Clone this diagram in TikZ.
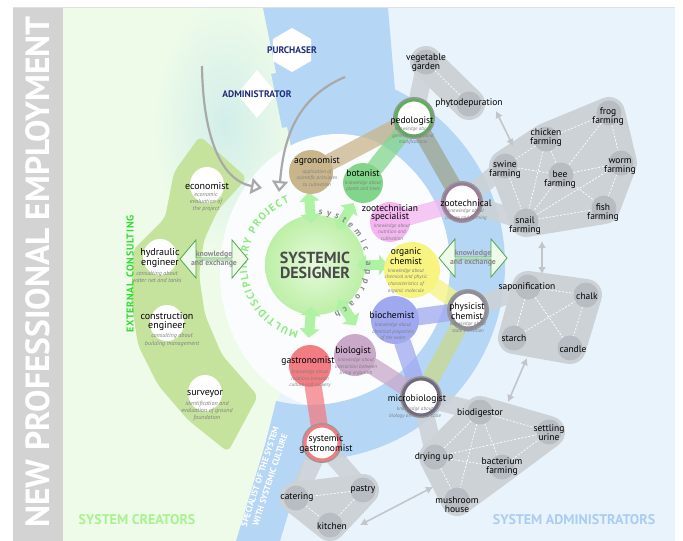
\documentclass[tikz,border=0pt]{standalone}
\usepackage{fontspec}
\setmainfont{PT Sans}
\usetikzlibrary{calc,shapes.geometric,shapes.arrows,decorations.text,arrows.meta}
\definecolor{bargray}{HTML}{D3D3D3}
\definecolor{creatorbg}{HTML}{EEFBE9}
\definecolor{adminbg}{HTML}{E9F3FB}
\definecolor{tealtint}{HTML}{D2EEE9}
\definecolor{ringblue}{HTML}{B6D6F5}
\definecolor{innerwhite}{HTML}{FAFCFE}
\definecolor{consultgreen}{HTML}{C6E39E}
\definecolor{designgreen}{HTML}{BDEFA6}
\definecolor{designlight}{HTML}{E6FADC}
\definecolor{arrowgreen}{HTML}{B0F2A4}
\definecolor{multigreen}{HTML}{8CEB7A}
\definecolor{brightgreen}{HTML}{2EDD2E}
\definecolor{creatortext}{HTML}{A8F28F}
\definecolor{admintext}{HTML}{A9CDF5}
\definecolor{navy}{HTML}{1F2C7C}
\definecolor{designertext}{HTML}{4A4A4A}
\definecolor{approachgray}{HTML}{8C8C8C}
\definecolor{agrocol}{HTML}{C9B58C}
\definecolor{botcol}{HTML}{82D68C}
\definecolor{pedocol}{HTML}{5EAE5E}
\definecolor{zoospeccol}{HTML}{F4B6F0}
\definecolor{zoocol}{HTML}{9C7B98}
\definecolor{orgcol}{HTML}{F7F580}
\definecolor{biochemcol}{HTML}{A0A8F0}
\definecolor{biolcol}{HTML}{CAA8CA}
\definecolor{gastrocol}{HTML}{F27C82}
\definecolor{physcol}{HTML}{8E8E98}
\definecolor{microcol}{HTML}{6F6A82}
\definecolor{olivecol}{HTML}{9DA58F}
\definecolor{limecol}{HTML}{C9D98E}
\definecolor{hullgray}{HTML}{CDD2D7}
\definecolor{dotgray}{HTML}{B8BDC3}
\definecolor{swapgray}{HTML}{C2C6CB}
\definecolor{notegray}{HTML}{808080}
\definecolor{knowgreen}{HTML}{4FA64F}
\definecolor{knowfill}{HTML}{EEFBE8}
\definecolor{knowtextgray}{HTML}{8A8A8A}
\definecolor{curvegray}{HTML}{A9A9A9}
\pgfdeclarelayer{back}
\pgfsetlayers{back,main}
\tikzset{farmdot/.style={circle,fill=dotgray,minimum size=25pt,inner sep=0pt},
farmlabel/.style={font=\fontsize{9.5}{9}\selectfont,align=center,inner sep=0pt},
speclabel/.style={font=\fontsize{9.5}{8.5}\selectfont,align=center,inner sep=0pt},
specnote/.style={font=\itshape\fontsize{5.2}{6.6}\selectfont,text=notegray,align=center,inner sep=0pt},
consultlabel/.style={font=\fontsize{10}{9}\selectfont,align=center,inner sep=0pt},
consultnote/.style={font=\itshape\fontsize{6.1}{7.3}\selectfont,text=notegray,align=center,inner sep=0pt},
consultant/.style={ellipse,fill=white,minimum width=34pt,minimum height=36pt,inner sep=0pt},
blob/.style={circle,fill=#1,minimum size=42pt,inner sep=0pt},
ringnode/.style={circle,fill=white,draw=#1,line width=3pt,minimum size=36pt,inner sep=0pt,preaction={draw=black!40,line width=6pt}},
band/.style={line width=17pt,line cap=round,opacity=.75},
hull/.style={fill=hullgray,draw=hullgray,line width=32pt,line join=round,line cap=round},
greyband/.style={draw=hullgray,line width=18pt,line cap=round,opacity=.9},
link/.style={draw=white,line width=.7pt,dash pattern=on 2pt off 1.6pt},
exchange/.style={draw=swapgray,line width=1.6pt,{Latex[length=7pt,width=8pt]}-{Latex[length=7pt,width=8pt]}},
designarrow/.style={draw=arrowgreen,line width=10pt,{Triangle[width=20pt,length=9pt]}-{Triangle[width=20pt,length=9pt]}},
bigcurve/.style={draw=curvegray,line width=2.2pt,-{Triangle[open,length=11pt,width=16pt]}},
knowarrow/.style={double arrow,draw=knowgreen,fill=knowfill,line width=.8pt,minimum height=68pt,minimum width=38pt,double arrow head extend=7pt,double arrow tip angle=100,inner sep=0pt},
knowtext/.style={font=\bfseries\fontsize{7.8}{8.6}\selectfont,text=knowtextgray,align=center,inner sep=0pt},
role/.style={font=\bfseries\fontsize{9.5}{9.5}\selectfont,text=navy,inner sep=0pt}}

\begin{document}
\begin{tikzpicture}[x=1pt,y=-1pt]
\useasboundingbox (0,0) rectangle (683,541);
\coordinate (C) at (315,265);
\coordinate (R) at (310,265);
% background regions
\begin{pgfonlayer}{back}
\fill[white] (0,0) rectangle (683,541);
\begin{scope}
\clip (63,8) rectangle (675,541);
\fill[adminbg] (63,8) rectangle (675,541);
\fill[creatorbg] (63,8) -- (263,8) -- (C) -- (240,541) -- (63,541) -- cycle;
\shade[inner color=tealtint,outer color=creatorbg] (225,125) ellipse[x radius=72,y radius=125];
\fill[ringblue] (C) -- (263,8) -- (388,8) -- (398,125) -- cycle;
\fill[innerwhite] (338,272) ellipse[x radius=118,y radius=138];
\fill[ringblue] ($(R)+(-101.5:140)$) arc[start angle=-101.5,end angle=104,radius=140]
  -- ($(R)+(104:195)$) arc[start angle=104,end angle=-101.5,radius=195] -- cycle;
\fill[ringblue] (277,405) -- (236,541) -- (280,541) -- (318,415) -- cycle;
\fill[consultgreen,rounded corners=6pt] (200,136) -- (247,178) -- (218,210) -- (204,240) -- (199,275)
  -- (205,315) -- (222,355) -- (258,396) -- (228,452) -- (188,420) -- (158,385) -- (138,345)
  -- (131,300) -- (133,250) -- (165,218) -- (174,172) -- cycle;
\end{scope}
\fill[bargray] (13,8) rectangle (63,541);
\draw[black!12] (13,7.5) -- (675,7.5);
\end{pgfonlayer}

% titles
\node[rotate=90,text=white,font=\bfseries\fontsize{33.5}{33.5}\selectfont] (employment) at (38,272) {NEW PROFESSIONAL EMPLOYMENT};
\node[text=creatortext,font=\bfseries\fontsize{14}{14}\selectfont] (creators) at (137,520) {SYSTEM CREATORS};
\node[text=admintext,font=\bfseries\fontsize{14}{14}\selectfont] (administrators) at (574,520) {SYSTEM ADMINISTRATORS};
\node[rotate=90,text=brightgreen,font=\bfseries\fontsize{10}{10}\selectfont\addfontfeature{LetterSpace=8}] (consulting) at (130,274) {EXTERNAL CONSULTING};
\node[rotate=72,text=white,align=center,font=\bfseries\fontsize{8.6}{10.5}\selectfont] (specialist) at (265,478) {SPECIALIST OF THE SYSTEM\\WITH SYSTEMIC CULTURE};

% systemic designer
\shade[inner color=designlight,outer color=designgreen] (C) circle[radius=50];
\foreach \a in {-95,-58,0,56,95}
  \draw[designarrow] ($(C)+(\a:42)$) -- ($(C)+(\a:73)$);
\path[decorate,decoration={text along path,text align={fit to path},
  text={|\bfseries\fontsize{9}{9}\selectfont\color{approachgray}|systemic approach}}]
  ($(C)+(-86:51)$) arc[start angle=-86,end angle=68,radius=51];
\path[decorate,decoration={text along path,text align={fit to path},
  text={|\bfseries\fontsize{10.5}{10.5}\selectfont\color{multigreen}|MULTIDISCIPLINARY PROJECT}}]
  ($(C)+(104:68)$) arc[start angle=104,end angle=248,radius=68];
\node[font=\bfseries\fontsize{16}{15}\selectfont,text=designertext,align=center] (designer) at (C) {SYSTEMIC\\DESIGNER};

% purchaser and administrator
\node[regular polygon,regular polygon sides=6,shape border rotate=30,fill=white,minimum size=44pt,inner sep=0pt] (purchaser-box) at (292,50) {};
\node[role] (purchaser) at (292,50) {PURCHASER};
\node[diamond,fill=white,minimum width=40pt,minimum height=48pt,inner sep=0pt] (administrator-box) at (257,94) {};
\node[role] (administrator) at (257,94) {ADMINISTRATOR};
\coordinate (left-from) at (202,66);
\coordinate (left-to) at (262,188);
\coordinate (right-from) at (345,77);
\coordinate (right-to) at (279,192);
\draw[bigcurve] (left-from) .. controls (203,135) and (220,180) .. (left-to);
\draw[bigcurve] (right-from) .. controls (290,100) and (283,150) .. (right-to);

% external consulting
\node[consultant] (economist) at (207,185) {};
\node[consultant] (hydraulic) at (160,257) {};
\node[consultant] (construction) at (167,323) {};
\node[consultant] (surveyor) at (205,393) {};
\node[consultlabel] (economist-t) at (207,186) {economist};
\node[consultnote] (economist-n) at (206,202) {economic\\evaluation of\\the project};
\node[consultlabel] (hydraulic-t) at (160,258) {hydraulic\\engineer};
\node[consultnote] (hydraulic-n) at (157,277) {consulting about\\water net and tanks};
\node[consultlabel] (construction-t) at (167,322) {construction\\engineer};
\node[consultnote] (construction-n) at (172,340) {consulting about\\building management};
\node[consultlabel] (surveyor-t) at (205,394) {surveyor};
\node[consultnote] (surveyor-n) at (207,411) {identification and\\evaluation of ground\\foundation};
\node[knowarrow] (knowledge-left) at (214,259) {};
\node[knowtext] (knowledge-left-t) at (214,259) {knowledge\\and exchange};
\node[knowarrow] (knowledge-right) at (473,258) {};
\node[knowtext] (knowledge-right-t) at (473,258) {knowledge\\and exchange};

% specialists
\node[blob=agrocol,minimum size=44pt] (agronomist) at (311,172) {};
\node[blob=botcol,minimum size=40pt] (botanist) at (363,183) {};
\node[blob=zoospeccol,minimum size=40pt] (zoospecialist) at (390,222) {};
\node[blob=orgcol,minimum size=56pt] (organic) at (412,270) {};
\node[blob=biochemcol,minimum size=48pt] (biochemist) at (395,320) {};
\node[blob=biolcol,minimum size=42pt] (biologist) at (355,355) {};
\node[blob=gastrocol,minimum size=42pt] (gastronomist) at (310,366) {};
\node[ringnode=pedocol] (pedologist) at (414,118) {};
\node[ringnode=zoocol] (zootechnical) at (462,202) {};
\node[ringnode=physcol] (physicist) at (468,310) {};
\node[ringnode=microcol] (microbiologist) at (421,397) {};
\node[ringnode=gastrocol,minimum size=34pt] (sysgastronomist) at (322,443) {};

% system administrators
\foreach \n/\x/\y in {vegetable/426/62,phyto/469/104,chicken/546/139,frog/609/113,swine/505/166,
  bee/561/175,worm/621/163,fish/604/208,snail/526/221,sapon/528/287,chalk/586/295,starch/514/338,
  candle/570/348,biodig/480/412,settling/549/432,drying/435/457,bacterium/502/467,mushroom/457/500,
  catering/296/498,pastry/363/490,kitchen/330/525}
  \node[farmdot] (\n) at (\x,\y) {};
\foreach \a/\b in {vegetable/phyto,swine/chicken,chicken/frog,chicken/bee,chicken/snail,frog/bee,
  frog/worm,swine/bee,swine/snail,bee/worm,bee/snail,bee/fish,snail/worm,snail/fish,worm/fish,
  sapon/chalk,sapon/starch,sapon/candle,starch/chalk,chalk/candle,biodig/settling,biodig/drying,
  biodig/bacterium,biodig/mushroom,drying/settling,drying/bacterium,drying/mushroom,bacterium/settling,
  catering/pastry,catering/kitchen,pastry/kitchen}
  \draw[link] (\a) -- (\b);
\foreach \n/\x/\y/\t in {vegetable/426/63/{vegetable\\garden},phyto/469/103/{phytodepuration},
  chicken/546/138/{chicken\\farming},frog/608/117/{frog\\farming},swine/505/170/{swine\\farming},
  bee/560/180/{bee\\farming},worm/620/167/{worm\\farming},fish/603/213/{fish\\farming},
  snail/525/226/{snail\\farming},sapon/527/287/{saponification},chalk/587/296/{chalk},
  starch/514/338/{starch},candle/573/349/{candle},biodig/480/413/{biodigestor},
  settling/549/433/{settling\\urine},drying/434/457/{drying up},bacterium/502/467/{bacterium\\farming},
  mushroom/457/505/{mushroom\\house},catering/297/497/{catering},pastry/363/490/{pastry},
  kitchen/332/526/{kitchen}}
  \node[farmlabel] (\n-t) at (\x,\y) {\t};
\coordinate (phyto-out) at (496,111);
\coordinate (swine-in) at (513,146);
\coordinate (snail-out) at (542,241);
\coordinate (sapon-in) at (542,274);
\coordinate (starch-out) at (527,358);
\coordinate (biodig-in) at (508,402);
\coordinate (kitchen-out) at (360,525);
\coordinate (mushroom-in) at (433,487);
\draw[exchange] (phyto-out) -- (swine-in);
\draw[exchange] (snail-out) -- (sapon-in);
\draw[exchange] (starch-out) -- (biodig-in);
\draw[exchange] (kitchen-out) -- (mushroom-in);

% specialist labels
\node[speclabel] (agronomist-t) at (317,161) {agronomist};
\node[specnote] (agronomist-n) at (317,178) {application of\\scientific principles\\to cultivation};
\node[speclabel] (botanist-t) at (363,173) {botanist};
\node[specnote] (botanist-n) at (363,186) {knowledge about\\plants and trees};
\node[speclabel] (pedologist-t) at (412,121) {pedologist};
\node[specnote] (pedologist-n) at (413,136) {knowledge about\\genesis and ground\\modifications};
\node[speclabel] (zoospecialist-t) at (390,213) {zootechnician\\specialist};
\node[specnote] (zoospecialist-n) at (392,232) {knowledge about\\nutrition and\\cultivation};
\node[speclabel] (zootechnical-t) at (466,203) {zootechnical};
\node[specnote] (zootechnical-n) at (466,215) {knowledge about\\culture and farming};
\node[speclabel] (organic-t) at (406,256) {organic\\chemist};
\node[specnote] (organic-n) at (406,281) {knowledge about\\chemical and physic\\characteristics of\\organic molecule};
\node[speclabel] (physicist-t) at (467,311) {physicist\\chemist};
\node[specnote] (physicist-n) at (468,327) {knowledge about\\state transition};
\node[speclabel] (biochemist-t) at (392,315) {biochemist};
\node[specnote] (biochemist-n) at (393,332) {knowledge about\\chemical properties\\of the water};
\node[speclabel] (biologist-t) at (353,351) {biologist};
\node[specnote] (biologist-n) at (356,367) {knowledge about\\interaction between\\living organism};
\node[speclabel] (microbiologist-t) at (417,399) {microbiologist};
\node[specnote] (microbiologist-n) at (415,413) {knowledge about\\biology on reduced scale};
\node[speclabel] (gastronomist-t) at (308,361) {gastronomist};
\node[specnote] (gastronomist-n) at (310,379) {knowledge about\\relations between\\culture and cookery};
\node[speclabel] (sysgastronomist-t) at (326,444) {systemic\\gastronomist};

% blobs and bands behind the nodes
\begin{pgfonlayer}{back}
\path[hull] (vegetable.center) -- (phyto.center);
\path[hull] (swine.center) -- (chicken.center) -- (frog.center) -- (worm.center) -- (fish.center) -- (snail.center) -- cycle;
\path[hull] (sapon.center) -- (chalk.center) -- (candle.center) -- (starch.center) -- cycle;
\path[hull] (biodig.center) -- (settling.center) -- (bacterium.center) -- (mushroom.center) -- (drying.center) -- cycle;
\path[hull] (catering.center) -- (pastry.center) -- (kitchen.center) -- cycle;
\foreach \a/\b in {pedologist/vegetable,zootechnical/swine,zootechnical/snail,physicist/sapon,
  microbiologist/drying,microbiologist/biodig,sysgastronomist/catering,sysgastronomist/pastry}
  \draw[greyband] (\a) -- (\b);
\foreach \a/\b/\c in {agronomist/pedologist/agrocol,botanist/pedologist/botcol,pedologist/zootechnical/olivecol,
  zoospecialist/zootechnical/zoospeccol,organic/physicist/orgcol,physicist/microbiologist/limecol,
  biochemist/physicist/biochemcol,biochemist/microbiologist/biochemcol,biologist/microbiologist/biolcol,
  gastronomist/sysgastronomist/gastrocol}
  \draw[band,draw=\c] (\a) -- (\b);
\end{pgfonlayer}
\end{tikzpicture}
\end{document}
